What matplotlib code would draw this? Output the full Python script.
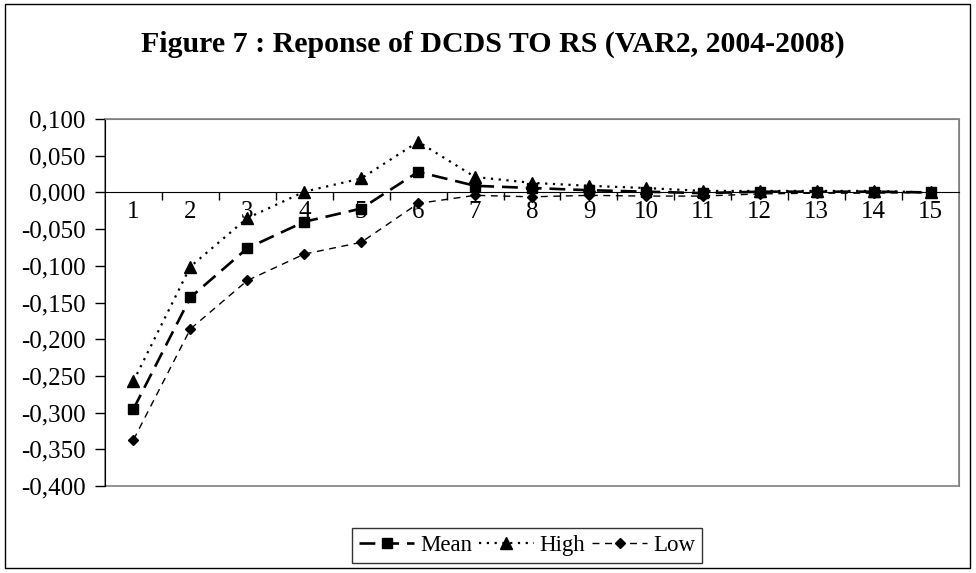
import matplotlib
matplotlib.use("Agg")
import matplotlib.pyplot as plt
from matplotlib.ticker import FuncFormatter, FixedLocator
from matplotlib.patches import Rectangle

plt.rcParams['font.family'] = ['Liberation Serif', 'DejaVu Serif']

# Impulse response values
periods = list(range(1, 16))
mean_vals = [-0.295, -0.143, -0.076, -0.040, -0.022, 0.028, 0.009, 0.006, 0.003, 0.001,
             -0.001, 0.001, 0.001, 0.001, 0.000]
high_vals = [-0.257, -0.101, -0.035, 0.001, 0.019, 0.069, 0.021, 0.013, 0.009, 0.006,
             0.002, 0.002, 0.002, 0.002, 0.000]
low_vals = [-0.337, -0.186, -0.120, -0.084, -0.068, -0.015, -0.004, -0.006, -0.004, -0.005,
            -0.005, -0.002, -0.001, -0.001, 0.000]
y_ticks = [-0.4, -0.35, -0.3, -0.25, -0.2, -0.15, -0.1, -0.05, 0.0, 0.05, 0.1]

fig = plt.figure(figsize=(9.76, 5.73), dpi=100)
fig.patches.append(Rectangle((0.005, 0.008), 0.989, 0.985, transform=fig.transFigure,
                             fill=False, edgecolor='black', linewidth=1.0))

ax = fig.add_axes([0.1076, 0.1518, 0.875, 0.6405])

ax.plot(periods, mean_vals, color='black', linewidth=1.9, linestyle=(0, (6, 3)),
        marker='s', markersize=7.5, label='Mean', zorder=4)
ax.plot(periods, high_vals, color='black', linewidth=1.6, linestyle=(0, (1, 2.5)),
        marker='^', markersize=8.5, label='High', zorder=3)
ax.plot(periods, low_vals, color='black', linewidth=1.0, linestyle=(0, (5, 4)),
        marker='D', markersize=5, label='Low', zorder=3)

ax.set_xlim(0.5, 15.5)
ax.set_ylim(-0.4, 0.1)

# y axis, comma decimals
ax.yaxis.set_major_locator(FixedLocator(y_ticks))
ax.yaxis.set_major_formatter(FuncFormatter(lambda v, p: f"{v:.3f}".replace('.', ',').replace('-0,000', '0,000')))
ax.tick_params(axis='y', direction='out', length=7, width=1, labelsize=18, pad=7)

# category axis sitting on zero
ax.spines['bottom'].set_position(('data', 0))
ax.set_xticks(periods)
ax.set_xticks([p + 0.5 for p in periods[:-1]], minor=True)
ax.tick_params(axis='x', which='major', length=0, labelsize=18, pad=6)
ax.tick_params(axis='x', which='minor', direction='out', length=6, width=1)

ax.spines['left'].set_color('black')
ax.spines['bottom'].set_color('black')
for s in ['top', 'right']:
    ax.spines[s].set_color('#808080')
ax.add_patch(Rectangle((0, 0), 1, 1, transform=ax.transAxes, fill=False,
                       edgecolor='#808080', linewidth=1.2, zorder=0, clip_on=False))

fig.text(0.505, 0.922, "Figure 7 : Reponse of DCDS TO RS (VAR2, 2004-2008)",
         ha='center', va='center', fontsize=21.5, fontweight='bold')

leg = fig.legend(loc='center', bbox_to_anchor=(0.540, 0.048), ncol=3, fontsize=16.5,
                 frameon=True, fancybox=False, handlelength=2.4, handletextpad=0.25,
                 columnspacing=0.3, borderpad=0.3, borderaxespad=0)
leg.get_frame().set_edgecolor('black')
leg.get_frame().set_linewidth(1.0)

fig.savefig("out.png", dpi=100)
